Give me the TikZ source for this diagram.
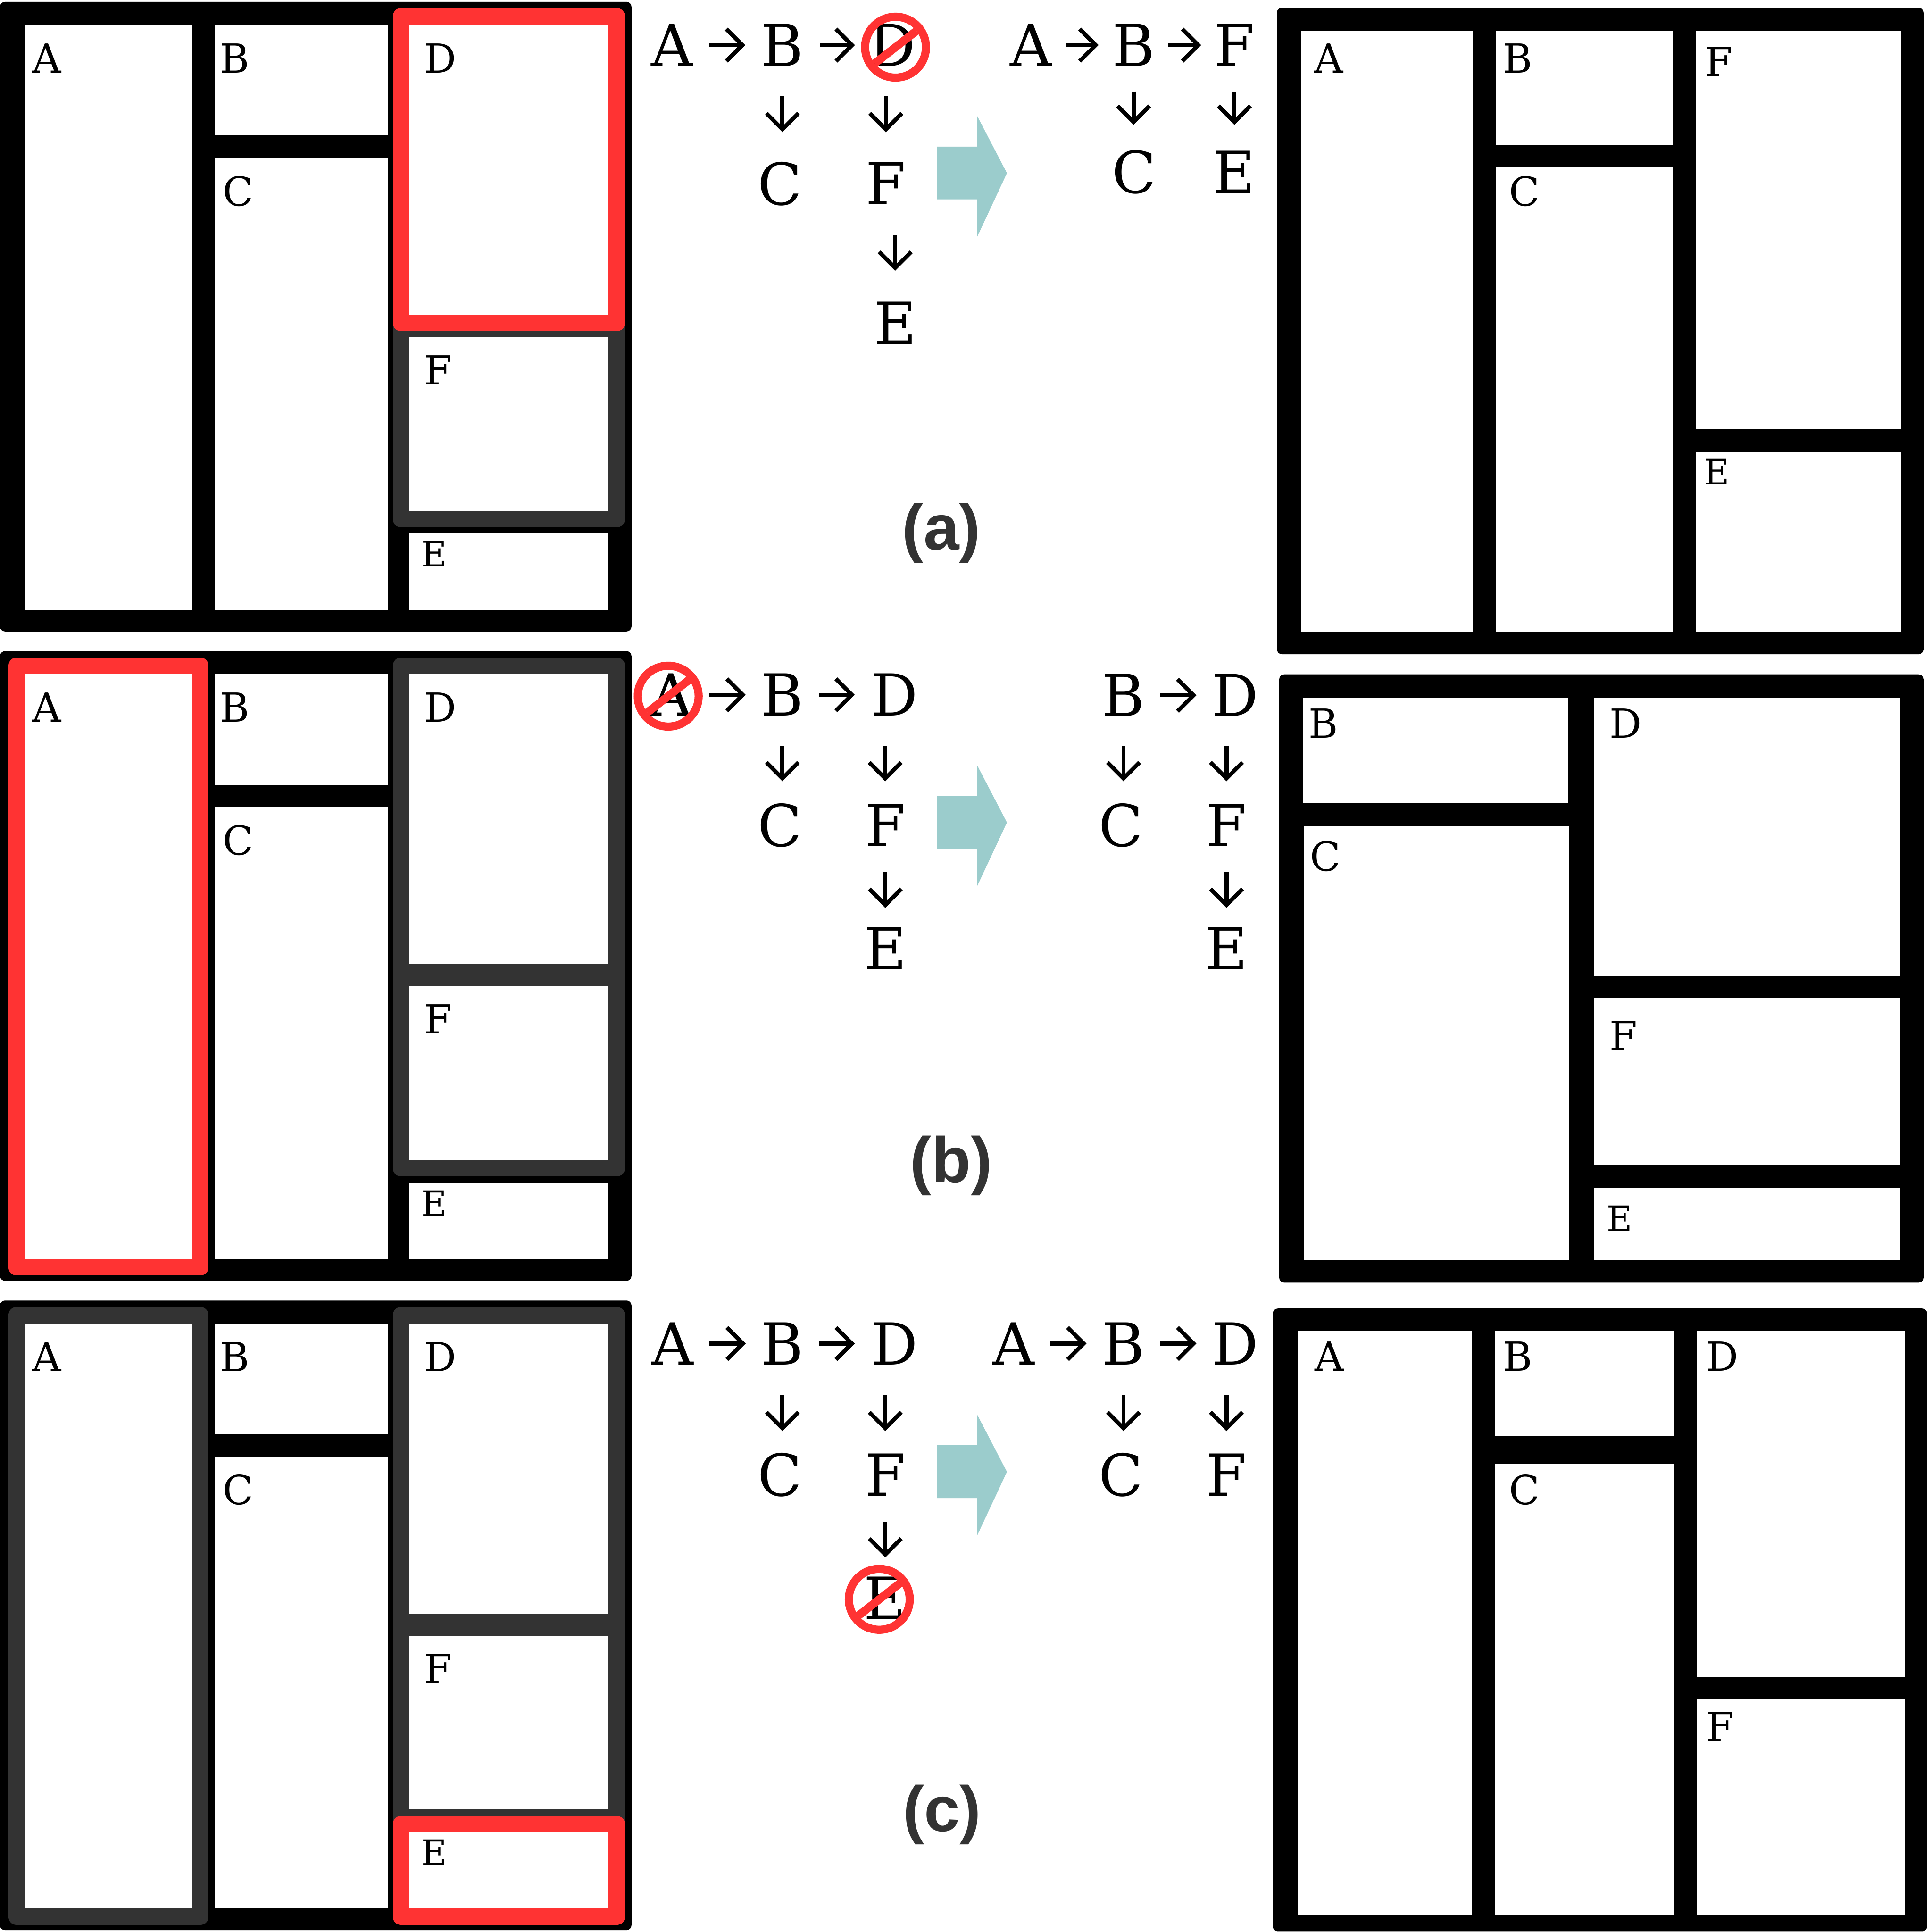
\documentclass[tikz,border=0pt]{standalone}
\usepackage{fontspec}
\setmainfont{DejaVu Serif}
\newfontfamily\capfont{Liberation Sans}
\usetikzlibrary{arrows.meta}
\definecolor{hired}{RGB}{255,51,51}
\definecolor{higray}{RGB}{51,51,51}
\definecolor{tealarrow}{RGB}{155,204,204}

\newcommand\leftpanel[2]{%
\begin{scope}[shift={(0,#2)}]
 \fill[panel] (0,1.5) rectangle (512.5,512.5);
 \fill[cell] (20,20) rectangle (156,495);
 \fill[cell] (174,20) rectangle (315,110);
 \fill[cell] (174,128) rectangle (314.5,495);
 \fill[cell] (332,20) rectangle (494,255.5);
 \fill[cell] (332,273.5) rectangle (494,414.5);
 \fill[cell] (332,433) rectangle (494,495);
 \node[boxlab] (#1A) at (26,59) {A};
 \node[boxlab] (#1B) at (178.5,59) {B};
 \node[boxlab] (#1C) at (180.5,167) {C};
 \node[boxlab] (#1D) at (344,59) {D};
 \node[boxlab] (#1F) at (344,312) {F};
 \node[boxlabE] (#1E) at (342,460) {E};
\end{scope}}

\newcommand\bigshift[1]{%
\begin{scope}[shift={(0,#1)}]
 \fill[bigarrow] (760.7,119) -- (793,119) -- (793,94) -- (817.2,140.5) -- (793,192.3) -- (793,161.8) -- (760.7,161.8) -- cycle;
\end{scope}}

\begin{document}
\begin{tikzpicture}[x=1pt,y=-1pt,
  panel/.style={fill=black, rounded corners=4pt},
  cell/.style={fill=white},
  redbox/.style={draw=hired, line width=13.3pt, line join=round},
  graybox/.style={draw=higray, line width=13.3pt, line join=round},
  boxlab/.style={anchor=base west, inner sep=0pt, font=\fontsize{32.5}{36}\selectfont},
  boxlabE/.style={boxlab, font=\fontsize{28.5}{32}\selectfont},
  letter/.style={inner sep=0pt, minimum width=40pt, minimum height=40pt, font=\fontsize{47}{50}\selectfont},
  link/.style={line width=3.3pt, -{Straight Barb[length=13pt,width=26pt]}},
  bigarrow/.style={fill=tealarrow},
  nosign/.style={draw=hired, line width=6.6pt},
  tag/.style={font=\capfont\bfseries\fontsize{52}{56}\selectfont, text=higray, anchor=base, inner sep=0pt}
]
\useasboundingbox[fill=white] (0,0) rectangle (1568,1568);

% ---------------- left panels ----------------
\leftpanel{aL}{0}
\leftpanel{bL}{527}
\leftpanel{cL}{1054}

% (a) highlights
\draw[graybox] (325.35,266.85) rectangle (500.65,421.15);
\draw[redbox] (325.35,13.35) rectangle (500.65,262.15);
% (b) highlights
\begin{scope}[shift={(0,527)}]
\draw[graybox] (325.35,13.35) rectangle (500.65,262.15);
\draw[graybox] (325.35,266.85) rectangle (500.65,421.15);
\draw[redbox] (13.35,13.35) rectangle (162.65,501.65);
\end{scope}
% (c) highlights
\begin{scope}[shift={(0,1054)}]
\draw[graybox] (13.35,13.35) rectangle (162.65,501.65);
\draw[graybox] (325.35,13.35) rectangle (500.65,262.15);
\draw[graybox] (325.35,266.85) rectangle (500.65,421.15);
\draw[redbox] (325.35,426.35) rectangle (500.65,501.65);
\end{scope}

% ---------------- right panels ----------------
% (a)
\fill[panel] (1036.4,6.2) rectangle (1561,531);
\fill[cell] (1056.3,25.4) rectangle (1195.5,512.5);
\fill[cell] (1214.4,25.4) rectangle (1358,117.6);
\fill[cell] (1214,136) rectangle (1357.5,512.5);
\fill[cell] (1376.4,25.4) rectangle (1542.7,348.3);
\fill[cell] (1376.4,366.8) rectangle (1542.7,512.5);
\node[boxlab] (aRA) at (1066.5,59) {A};
\node[boxlab] (aRB) at (1219.5,59) {B};
\node[boxlab] (aRC) at (1224.5,167) {C};
\node[boxlab] (aRF) at (1383.5,61.7) {F};
\node[boxlabE] (aRE) at (1382.5,393.5) {E};
% (b)
\fill[panel] (1038.2,547.3) rectangle (1561,1041);
\fill[cell] (1057.5,566) rectangle (1273,651.8);
\fill[cell] (1058,670.7) rectangle (1273.5,1022.7);
\fill[cell] (1293.4,566) rectangle (1542.4,792.2);
\fill[cell] (1293.4,809.8) rectangle (1542.4,945.5);
\fill[cell] (1293.4,963.8) rectangle (1542.4,1022.7);
\node[boxlab] (bRB) at (1062,598.9) {B};
\node[boxlab] (bRC) at (1063,707) {C};
\node[boxlab] (bRD) at (1306,598.9) {D};
\node[boxlab] (bRF) at (1306,852.4) {F};
\node[boxlabE] (bRE) at (1304,999.4) {E};
% (c)
\fill[panel] (1033,1062) rectangle (1564,1567.4);
\fill[cell] (1053,1080) rectangle (1194.5,1554);
\fill[cell] (1213.5,1080) rectangle (1359,1165.6);
\fill[cell] (1213,1188) rectangle (1358.5,1554);
\fill[cell] (1377,1080) rectangle (1546,1361);
\fill[cell] (1377,1379) rectangle (1546,1554);
\node[boxlab] (cRA) at (1067,1112.8) {A};
\node[boxlab] (cRB) at (1219.5,1112.8) {B};
\node[boxlab] (cRC) at (1224.5,1220.8) {C};
\node[boxlab] (cRD) at (1384.5,1112.8) {D};
\node[boxlab] (cRF) at (1384.5,1413) {F};

% ---------------- big arrows ----------------
\bigshift{0}
\bigshift{527}
\bigshift{1054}

% ---------------- chains (a) ----------------
\node[letter] (a1A) at (545.5,36.6) {A};
\node[letter] (a1B) at (635,36.6) {B};
\node[letter] (a1D) at (724.2,36.6) {D};
\node[letter] (a1C) at (632.8,149.2) {C};
\node[letter] (a1F) at (718.9,148.9) {F};
\node[letter] (a1E) at (726.5,262) {E};
\draw[link, shorten <=10pt, shorten >=10pt] (a1A) -- (a1B);
\draw[link, shorten <=10pt, shorten >=10.2pt] (a1B) -- (a1D);
\draw[link, shorten <=21.4pt, shorten >=21.7pt] (a1B.south) -- (a1B.south |- a1C.north);
\draw[link, shorten <=21.4pt, shorten >=21.4pt] (a1F.north |- a1D.south) -- (a1F.north);
\draw[link, shorten <=21.7pt, shorten >=22pt] (a1E.north |- a1F.south) -- (a1E.north);
\draw[nosign] ([shift={(2.6,1.7)}]a1D.center) circle[radius=24.7];
\draw[nosign] ([shift={(2.6,1.7)}]a1D.center) ++(142:21.5) -- ++(-38:43);

\node[letter] (a2A) at (836.7,36.6) {A};
\node[letter] (a2B) at (920,36.6) {B};
\node[letter] (a2F) at (1001.8,36.6) {F};
\node[letter] (a2C) at (920.5,139.7) {C};
\node[letter] (a2E) at (1001.5,139.7) {E};
\draw[link, shorten <=7.8pt, shorten >=8.2pt] (a2A) -- (a2B);
\draw[link, shorten <=7.7pt, shorten >=6.8pt] (a2B) -- (a2F);
\draw[link, shorten <=17.3pt, shorten >=18.2pt] (a2B.south) -- (a2B.south |- a2C.north);
\draw[link, shorten <=17.3pt, shorten >=18.2pt] (a2F.south) -- (a2F.south |- a2E.north);

\node[tag] (tagA) at (764,446) {(a)};

% ---------------- chains (b) ----------------
\node[letter] (b1A) at (544.6,563.9) {A};
\node[letter] (b1B) at (635,563.9) {B};
\node[letter] (b1D) at (726,563.9) {D};
\node[letter] (b1C) at (632.8,669.8) {C};
\node[letter] (b1F) at (718.5,669.8) {F};
\node[letter] (b1E) at (718.5,769.7) {E};
\draw[link, shorten <=11pt, shorten >=9.6pt] (b1A) -- (b1B);
\draw[link, shorten <=9.4pt, shorten >=12.1pt] (b1B) -- (b1D);
\draw[link, shorten <=21.1pt, shorten >=15.5pt] (b1B.south) -- (b1B.south |- b1C.north);
\draw[link, shorten <=21.1pt, shorten >=15.5pt] (b1F.north |- b1D.south) -- (b1F.north);
\draw[link, shorten <=17.7pt, shorten >=12.7pt] (b1F.south) -- (b1F.south |- b1E.north);
\draw[nosign] ([shift={(-2.3,1.1)}]b1A.center) circle[radius=24.7];
\draw[nosign] ([shift={(-2.3,1.1)}]b1A.center) ++(142:21.5) -- ++(-38:43);

\node[letter] (b2B) at (911.8,564.3) {B};
\node[letter] (b2D) at (1002.6,564.3) {D};
\node[letter] (b2C) at (909.7,669.8) {C};
\node[letter] (b2F) at (995.4,669.8) {F};
\node[letter] (b2E) at (995.5,769.7) {E};
\draw[link, shorten <=9.6pt, shorten >=11.4pt] (b2B) -- (b2D);
\draw[link, shorten <=20.7pt, shorten >=15.5pt] (b2B.south) -- (b2B.south |- b2C.north);
\draw[link, shorten <=20.7pt, shorten >=15.5pt] (b2F.north |- b2D.south) -- (b2F.north);
\draw[link, shorten <=17.7pt, shorten >=12.7pt] (b2F.south) -- (b2F.south |- b2E.north);

\node[tag] (tagB) at (772,959.4) {(b)};

% ---------------- chains (c) ----------------
\node[letter] (c1A) at (545.8,1090.4) {A};
\node[letter] (c1B) at (635,1090.4) {B};
\node[letter] (c1D) at (726,1090.4) {D};
\node[letter] (c1C) at (632.8,1196.9) {C};
\node[letter] (c1F) at (718.5,1196.9) {F};
\node[letter] (c1E) at (718.2,1296.8) {E};
\draw[link, shorten <=9.8pt, shorten >=9.6pt] (c1A) -- (c1B);
\draw[link, shorten <=9.4pt, shorten >=12.1pt] (c1B) -- (c1D);
\draw[link, shorten <=21.6pt, shorten >=15.2pt] (c1B.south) -- (c1B.south |- c1C.north);
\draw[link, shorten <=21.6pt, shorten >=15.2pt] (c1F.north |- c1D.south) -- (c1F.north);
\draw[link, shorten <=17.9pt, shorten >=12.6pt] (c1F.south) -- (c1F.south |- c1E.north);
\draw[nosign] ([shift={(-4.6,1.2)}]c1E.center) circle[radius=24.7];
\draw[nosign] ([shift={(-4.6,1.2)}]c1E.center) ++(142:21.5) -- ++(-38:43);

\node[letter] (c2A) at (822.6,1090.4) {A};
\node[letter] (c2B) at (911.8,1090.4) {B};
\node[letter] (c2D) at (1002.6,1090.4) {D};
\node[letter] (c2C) at (909.7,1196.9) {C};
\node[letter] (c2F) at (995.4,1196.9) {F};
\draw[link, shorten <=9.7pt, shorten >=9.8pt] (c2A) -- (c2B);
\draw[link, shorten <=9.6pt, shorten >=11.4pt] (c2B) -- (c2D);
\draw[link, shorten <=21.6pt, shorten >=15.2pt] (c2B.south) -- (c2B.south |- c2C.north);
\draw[link, shorten <=21.6pt, shorten >=15.2pt] (c2F.north |- c2D.south) -- (c2F.north);

\node[tag] (tagC) at (764.5,1486.4) {(c)};
\end{tikzpicture}
\end{document}
